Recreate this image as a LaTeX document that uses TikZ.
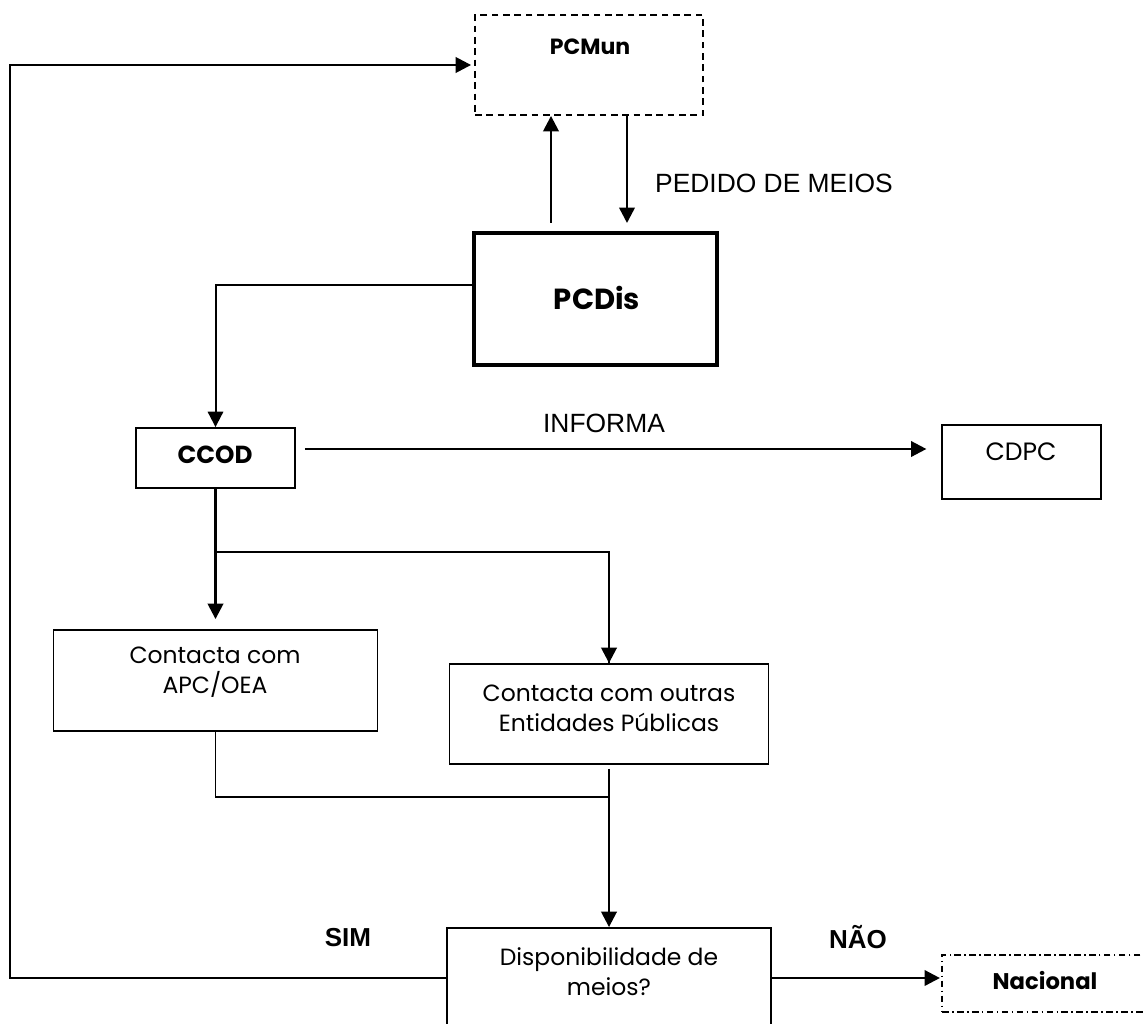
\documentclass[tikz,border=0pt]{standalone}
\usepackage{fontspec}
\setmainfont{Poppins}
\newfontfamily\arialf{Liberation Sans}
\usetikzlibrary{arrows.meta,calc}
\begin{document}
\begin{tikzpicture}[x=0.75pt,y=-0.75pt,
  box/.style={draw,line width=1.4pt,rectangle,inner sep=0pt},
  arr/.style={line width=1.9pt,-{Triangle[length=11.5pt,width=11.5pt]}},
  ln/.style={line width=1.3pt},
  gtext/.style={font=\fontsize{17.6}{22.5}\selectfont,align=center,inner sep=0pt},
  gbold/.style={font=\bfseries\fontsize{#1}{#1}\selectfont,inner sep=0pt},
  atext/.style={font=\arialf\fontsize{19.8}{22}\selectfont,inner sep=0pt},
  abold/.style={font=\arialf\bfseries\fontsize{19.5}{22}\selectfont,inner sep=0pt}]
\useasboundingbox (0,0) rectangle (1144,1023);
\clip (0,0) rectangle (1144,1023);
% boxes
\node[box,dash pattern=on 5pt off 3.5pt,minimum width=171pt,minimum height=75pt] (pcmun) at (589,65) {};
\node[box,line width=3pt,minimum width=182.25pt,minimum height=99pt] (pcdis) at (595.5,299) {};
\node[box,minimum width=119.25pt,minimum height=45pt] (ccod) at (215.5,458) {};
\node[box,minimum width=119.25pt,minimum height=55.5pt] (cdpc) at (1021.5,462) {};
\node[box,minimum width=243pt,minimum height=75.75pt] (apc) at (215.5,680.5) {};
\node[box,minimum width=239.25pt,minimum height=75pt] (outras) at (609,714) {};
\node[box,minimum width=243pt,minimum height=75pt] (disp) at (609,978) {};
\node[box,line width=1.1pt,dash pattern=on 5pt off 2.5pt on 1.2pt off 2.5pt,minimum width=165pt,minimum height=42.75pt] (nacional) at (1052,983.5) {};
% texts
\node[gbold=16.5] (tpcmun) at (590,47) {PCMun};
\node[gbold=21.8] (tpcdis) at (597,298) {PCDis};
\node[gbold=18.5] (tccod) at (215,455) {CCOD};
\node[gtext,font=\fontsize{18.8}{22.5}\selectfont] (tcdpc) at (1021,452) {CDPC};
\node[gtext] (tapc) at (215,672) {Contacta com\\APC/OEA};
\node[gtext] (toutras) at (609,708) {Contacta com outras\\Entidades Públicas};
\node[gtext] (tdisp) at (609,972) {Disponibilidade de\\meios?};
\node[gbold=17] (tnac) at (1045,980) {Nacional};
\node[atext] (tpedido) at (774,183) {PEDIDO DE MEIOS};
\node[atext] (tinforma) at (604,423) {INFORMA};
\node[abold] (tsim) at (348,938) {SIM};
\node[abold] (tnao) at (858,937) {NÃO};
% helper coordinates
\coordinate (upx) at (551,0);
\coordinate (dnx) at (627,0);
\coordinate (br1) at (215.5,552);
\coordinate (jn) at (609,797);
\coordinate (lb) at (10,978);
\coordinate (lt) at (10,65);
% connectors
\draw[arr,shorten <=6pt] (pcdis.north -| upx) -- (pcmun.south -| upx);
\draw[arr,shorten >=6pt] (pcmun.south -| dnx) -- (pcdis.north -| dnx);
\draw[arr,line width=1.5pt] ($(pcdis.west)+(0,-14)$) -| (ccod.north);
\draw[arr,shorten >=11pt] ($(ccod.east)+(9,-9)$) -- ($(cdpc.west |- ccod.east)+(0,-9)$);
\draw[arr,shorten >=7.5pt] (ccod.south) -- (apc.north);
\draw[ln] (br1) -| (outras.north);
\draw[arr] ($(br1 -| outras.north)+(0,10)$) -- (outras.north);
\draw[ln] (apc.south) |- (jn);
\draw[arr,shorten <=3pt] (outras.south) -- (disp.north);
\draw[arr] (disp.west) -- (lb) -- (lt) -- ($(pcmun.west)+(-3,0)$);
\draw[arr,shorten >=1pt] (disp.east) -- (disp.east -| nacional.west);
\end{tikzpicture}
\end{document}
